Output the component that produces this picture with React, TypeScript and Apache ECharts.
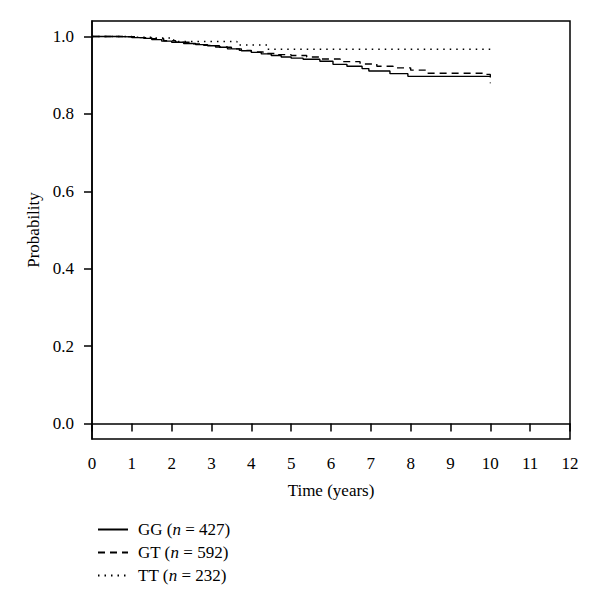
import React, { useEffect, useRef } from "react";
import * as echarts from "echarts";

// Kaplan-Meier step data: [time (years), survival probability]
const ggData: [number, number][] = [
  [0, 1], [0.6, 0.999], [1.0, 0.997], [1.3, 0.995], [1.5, 0.992], [1.75, 0.988],
  [2.0, 0.985], [2.3, 0.982], [2.6, 0.979], [2.9, 0.976], [3.2, 0.972], [3.5, 0.968],
  [3.75, 0.963], [4.0, 0.959], [4.25, 0.955], [4.5, 0.951], [4.75, 0.947], [5.0, 0.944],
  [5.3, 0.941], [5.72, 0.936], [6.05, 0.928], [6.4, 0.923], [6.78, 0.917], [6.95, 0.911],
  [7.48, 0.904], [7.93, 0.897], [10.0, 0.897],
];
const gtData: [number, number][] = [
  [0, 1], [0.8, 0.999], [1.2, 0.997], [1.5, 0.994], [1.8, 0.989], [2.1, 0.985],
  [2.5, 0.981], [2.8, 0.977], [3.1, 0.973], [3.4, 0.968], [3.7, 0.964], [4.0, 0.960],
  [4.3, 0.956], [4.6, 0.953], [5.0, 0.951], [5.39, 0.947], [5.72, 0.942], [6.23, 0.935],
  [6.73, 0.929], [7.15, 0.923], [7.56, 0.919], [8.0, 0.913], [8.4, 0.905], [9.9, 0.902],
  [10.0, 0.879],
];
const ttData: [number, number][] = [
  [0, 1], [1.0, 0.998], [1.6, 0.996], [2.05, 0.987], [3.64, 0.978], [4.4, 0.967], [10.0, 0.967],
];

const seriesNames = ["GG", "GT", "TT"];
const seriesCounts = [427, 592, 232];
const yTicks = [0, 0.2, 0.4, 0.6, 0.8, 1.0];

const FONT = "'Liberation Serif', 'DejaVu Serif', serif";
const FS = 17;

export default function App() {
  const ref = useRef<HTMLDivElement>(null);
  useEffect(() => {
    if (!ref.current) return;
    const chart = echarts.init(ref.current, null, { renderer: "svg" });
    const lineCommon = {
      type: "line" as const,
      step: "end" as const,
      symbol: "none",
      silent: true,
    };
    chart.setOption({
      animation: false,
      backgroundColor: "#fff",
      textStyle: { fontFamily: FONT, color: "#000" },
      grid: {
        left: 92,
        right: 30,
        top: 21,
        bottom: 169,
        show: true,
        borderColor: "#000",
        borderWidth: 1.5,
        backgroundColor: "transparent",
      },
      legend: {
        orient: "vertical",
        left: 92,
        top: 516,
        itemWidth: 30,
        itemHeight: 14,
        itemGap: 6,
        data: seriesNames,
        itemStyle: { opacity: 0 },
        formatter: (name: string) => {
          const i = seriesNames.indexOf(name);
          return `{a|${name} (}{i|n}{a| = ${seriesCounts[i]})}`;
        },
        textStyle: {
          padding: [0, 0, 0, 5],
          rich: {
            a: { fontFamily: FONT, fontSize: FS, color: "#000" },
            i: { fontFamily: FONT, fontSize: FS, color: "#000", fontStyle: "italic" },
          },
        },
      },
      xAxis: {
        type: "value",
        min: 0,
        max: 12,
        interval: 1,
        name: "Time (years)",
        nameLocation: "middle",
        nameGap: 43,
        nameTextStyle: { fontFamily: FONT, fontSize: FS, color: "#000" },
        axisLine: { show: true, lineStyle: { color: "#000", width: 1.5 } },
        axisTick: { show: true, inside: false, length: 8, lineStyle: { color: "#000", width: 1.5 } },
        axisLabel: { fontFamily: FONT, fontSize: FS, color: "#000", margin: 16 },
        splitLine: { show: false },
      },
      yAxis: {
        type: "value",
        min: -0.04,
        max: 1.04,
        name: "Probability",
        nameLocation: "middle",
        nameGap: 50,
        nameTextStyle: { fontFamily: FONT, fontSize: FS, color: "#000" },
        axisLine: { show: true, lineStyle: { color: "#000", width: 1.5 } },
        axisTick: {
          show: true,
          inside: false,
          length: 8,
          customValues: yTicks,
          lineStyle: { color: "#000", width: 1.5 },
        },
        axisLabel: {
          fontFamily: FONT,
          fontSize: FS,
          color: "#000",
          margin: 18,
          customValues: yTicks,
          formatter: (v: number) => v.toFixed(1),
        },
        splitLine: { show: false },
      },
      series: [
        { ...lineCommon, name: "GG", data: ggData, lineStyle: { color: "#000", width: 1.4, type: "solid" }, itemStyle: { color: "#000" } },
        { ...lineCommon, name: "GT", data: gtData, lineStyle: { color: "#000", width: 1.4, type: [7, 5] }, itemStyle: { color: "#000" } },
        { ...lineCommon, name: "TT", data: ttData, lineStyle: { color: "#000", width: 1.4, type: [1.5, 5] }, itemStyle: { color: "#000" } },
      ],
    });
    return () => chart.dispose();
  }, []);
  return (
    <div
      ref={ref}
      style={{ position: "fixed", left: 0, top: 0, width: 600, height: 608, background: "#fff" }}
    />
  );
}
